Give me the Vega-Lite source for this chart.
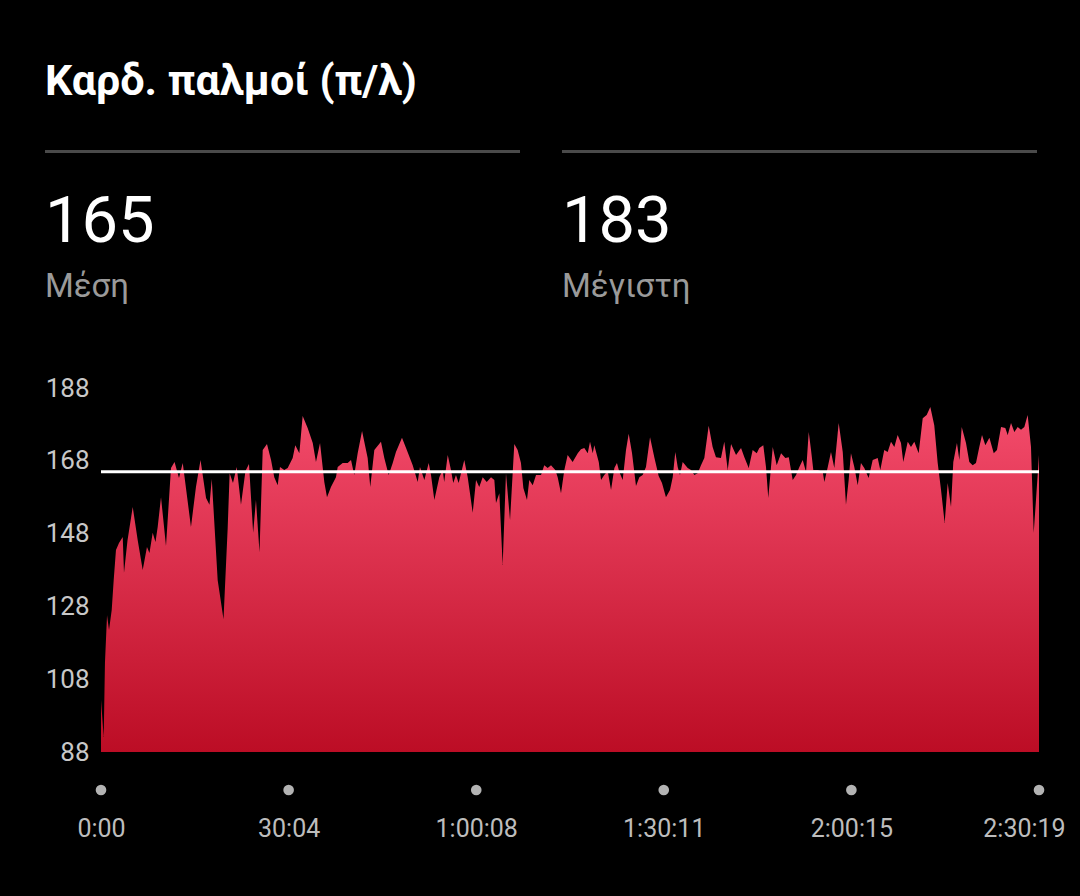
{
  "$schema": "https://vega.github.io/schema/vega-lite/v6.json",
  "background": "#000000",
  "padding": {"left": 44, "top": 0, "right": 20, "bottom": 70},
  "bounds": "flush",
  "spacing": 20,
  "config": {"view": {"stroke": null}, "font": "Roboto"},
  "vconcat": [
    {
      "width": 938,
      "height": 368,
      "data": {"values": [
        {"stat": "Μέση", "value": 165, "col": 0},
        {"stat": "Μέγιστη", "value": 183, "col": 1}
      ]},
      "layer": [
        {
          "mark": {"type": "bar", "color": "#4a4a4a"},
          "encoding": {
            "x": {"field": "col", "type": "ordinal", "scale": {"type": "band", "range": [-56, 936], "paddingInner": 0.0812, "paddingOuter": 0}, "axis": null},
            "y": {"value": 150},
            "y2": {"value": 153}
          }
        },
        {
          "mark": {"type": "text", "align": "left", "baseline": "alphabetic", "fontSize": 65, "fontWeight": "normal", "color": "#ffffff"},
          "encoding": {
            "x": {"field": "col", "type": "ordinal", "bandPosition": 0, "axis": null},
            "y": {"value": 242},
            "text": {"field": "value", "type": "quantitative"}
          }
        },
        {
          "mark": {"type": "text", "align": "left", "baseline": "alphabetic", "fontSize": 33, "color": "#9a9a9a"},
          "encoding": {
            "x": {"field": "col", "type": "ordinal", "bandPosition": 0, "axis": null},
            "y": {"value": 297},
            "text": {"field": "stat", "type": "nominal"}
          }
        },
        {
          "data": {"values": [{"title": "Καρδ. παλμοί (π/λ)"}]},
          "mark": {"type": "text", "align": "left", "baseline": "alphabetic", "fontSize": 43, "fontWeight": "bold", "color": "#ffffff", "dx": -56},
          "encoding": {
            "x": {"value": 0},
            "y": {"value": 95},
            "text": {"field": "title", "type": "nominal"}
          }
        }
      ]
    },
    {
      "width": 938,
      "height": 364,
      "layer": [
        {
          "data": {"values": [
            {"t":0,"hr":102.3},{"t":26,"hr":92.1},{"t":38,"hr":112.4},{"t":58,"hr":125.6},{"t":77,"hr":121.5},{"t":103,"hr":127.0},{"t":122,"hr":135.2},{"t":144,"hr":143.5},{"t":173,"hr":145.4},{"t":209,"hr":147.1},{"t":221,"hr":137.2},{"t":255,"hr":146.2},{"t":305,"hr":155.3},{"t":353,"hr":146.2},{"t":401,"hr":138.0},{"t":442,"hr":144.3},{"t":466,"hr":142.7},{"t":497,"hr":148.2},{"t":524,"hr":145.7},{"t":545,"hr":149.8},{"t":577,"hr":158.0},{"t":625,"hr":144.6},{"t":673,"hr":166.0},{"t":707,"hr":167.7},{"t":750,"hr":163.3},{"t":786,"hr":167.4},{"t":865,"hr":149.8},{"t":913,"hr":160.8},{"t":957,"hr":168.2},{"t":1010,"hr":157.8},{"t":1043,"hr":155.9},{"t":1065,"hr":163.0},{"t":1122,"hr":135.2},{"t":1178,"hr":124.5},{"t":1218,"hr":149.5},{"t":1237,"hr":164.6},{"t":1269,"hr":161.9},{"t":1305,"hr":166.3},{"t":1346,"hr":155.9},{"t":1389,"hr":165.2},{"t":1423,"hr":167.1},{"t":1463,"hr":148.2},{"t":1490,"hr":157.2},{"t":1524,"hr":142.9},{"t":1555,"hr":171.0},{"t":1596,"hr":172.6},{"t":1635,"hr":168.2},{"t":1666,"hr":163.5},{"t":1699,"hr":161.3},{"t":1721,"hr":166.3},{"t":1762,"hr":165.5},{"t":1795,"hr":166.0},{"t":1843,"hr":168.8},{"t":1868,"hr":172.3},{"t":1907,"hr":170.1},{"t":1939,"hr":180.3},{"t":1987,"hr":177.0},{"t":2036,"hr":172.9},{"t":2067,"hr":167.7},{"t":2106,"hr":172.9},{"t":2147,"hr":162.2},{"t":2173,"hr":158.0},{"t":2211,"hr":160.8},{"t":2259,"hr":163.5},{"t":2276,"hr":166.3},{"t":2324,"hr":167.4},{"t":2372,"hr":167.4},{"t":2404,"hr":168.2},{"t":2435,"hr":164.1},{"t":2468,"hr":170.1},{"t":2510,"hr":176.2},{"t":2564,"hr":168.8},{"t":2589,"hr":160.8},{"t":2628,"hr":171.0},{"t":2692,"hr":173.2},{"t":2724,"hr":168.8},{"t":2766,"hr":164.1},{"t":2805,"hr":167.4},{"t":2836,"hr":170.4},{"t":2894,"hr":174.3},{"t":2933,"hr":171.5},{"t":2997,"hr":166.8},{"t":3045,"hr":162.2},{"t":3067,"hr":166.3},{"t":3109,"hr":162.7},{"t":3151,"hr":167.4},{"t":3173,"hr":164.1},{"t":3205,"hr":157.2},{"t":3253,"hr":163.5},{"t":3285,"hr":165.5},{"t":3300,"hr":162.2},{"t":3334,"hr":169.6},{"t":3365,"hr":165.5},{"t":3387,"hr":161.9},{"t":3413,"hr":164.1},{"t":3439,"hr":161.9},{"t":3493,"hr":168.2},{"t":3526,"hr":163.5},{"t":3574,"hr":153.7},{"t":3606,"hr":162.7},{"t":3637,"hr":160.8},{"t":3670,"hr":163.5},{"t":3709,"hr":162.2},{"t":3750,"hr":163.5},{"t":3782,"hr":162.7},{"t":3798,"hr":156.4},{"t":3830,"hr":159.1},{"t":3862,"hr":139.4},{"t":3894,"hr":164.6},{"t":3933,"hr":151.7},{"t":3974,"hr":172.6},{"t":4006,"hr":171.0},{"t":4038,"hr":167.4},{"t":4061,"hr":160.5},{"t":4096,"hr":157.2},{"t":4118,"hr":162.7},{"t":4151,"hr":161.3},{"t":4183,"hr":164.1},{"t":4231,"hr":164.1},{"t":4262,"hr":166.8},{"t":4295,"hr":166.0},{"t":4327,"hr":166.8},{"t":4368,"hr":165.5},{"t":4391,"hr":163.5},{"t":4423,"hr":159.1},{"t":4455,"hr":165.5},{"t":4487,"hr":169.6},{"t":4535,"hr":167.7},{"t":4584,"hr":170.1},{"t":4615,"hr":171.2},{"t":4647,"hr":171.5},{"t":4680,"hr":170.1},{"t":4702,"hr":173.2},{"t":4728,"hr":170.1},{"t":4743,"hr":172.3},{"t":4786,"hr":167.7},{"t":4808,"hr":162.7},{"t":4839,"hr":164.1},{"t":4872,"hr":165.2},{"t":4904,"hr":160.0},{"t":4936,"hr":166.0},{"t":4961,"hr":167.4},{"t":4984,"hr":164.9},{"t":5016,"hr":162.7},{"t":5048,"hr":171.0},{"t":5074,"hr":175.4},{"t":5106,"hr":170.1},{"t":5144,"hr":161.1},{"t":5176,"hr":163.5},{"t":5208,"hr":164.1},{"t":5240,"hr":166.3},{"t":5279,"hr":174.5},{"t":5320,"hr":169.0},{"t":5362,"hr":163.8},{"t":5394,"hr":161.9},{"t":5432,"hr":158.0},{"t":5471,"hr":160.0},{"t":5497,"hr":163.5},{"t":5522,"hr":170.4},{"t":5545,"hr":166.3},{"t":5567,"hr":164.1},{"t":5593,"hr":167.7},{"t":5641,"hr":166.0},{"t":5673,"hr":165.5},{"t":5705,"hr":164.1},{"t":5737,"hr":164.6},{"t":5769,"hr":166.8},{"t":5801,"hr":168.8},{"t":5843,"hr":177.6},{"t":5881,"hr":171.8},{"t":5913,"hr":169.0},{"t":5961,"hr":168.8},{"t":5993,"hr":173.2},{"t":6026,"hr":165.5},{"t":6058,"hr":172.6},{"t":6106,"hr":169.6},{"t":6154,"hr":171.5},{"t":6186,"hr":169.0},{"t":6228,"hr":166.0},{"t":6266,"hr":171.0},{"t":6305,"hr":170.1},{"t":6330,"hr":171.5},{"t":6368,"hr":172.3},{"t":6394,"hr":166.3},{"t":6416,"hr":157.8},{"t":6459,"hr":171.8},{"t":6497,"hr":166.8},{"t":6539,"hr":170.1},{"t":6580,"hr":168.8},{"t":6613,"hr":169.0},{"t":6651,"hr":162.7},{"t":6683,"hr":164.1},{"t":6715,"hr":166.3},{"t":6747,"hr":168.2},{"t":6779,"hr":164.9},{"t":6805,"hr":175.9},{"t":6827,"hr":171.0},{"t":6849,"hr":165.5},{"t":6892,"hr":165.5},{"t":6940,"hr":164.9},{"t":6955,"hr":162.2},{"t":6988,"hr":166.3},{"t":7019,"hr":170.4},{"t":7051,"hr":166.0},{"t":7093,"hr":178.4},{"t":7132,"hr":170.4},{"t":7163,"hr":155.9},{"t":7189,"hr":162.7},{"t":7211,"hr":170.1},{"t":7243,"hr":166.3},{"t":7276,"hr":161.3},{"t":7307,"hr":167.4},{"t":7339,"hr":166.0},{"t":7381,"hr":163.3},{"t":7420,"hr":168.2},{"t":7468,"hr":168.8},{"t":7493,"hr":165.5},{"t":7531,"hr":171.0},{"t":7564,"hr":170.4},{"t":7596,"hr":173.2},{"t":7628,"hr":171.8},{"t":7660,"hr":175.1},{"t":7692,"hr":172.9},{"t":7714,"hr":167.7},{"t":7757,"hr":173.2},{"t":7788,"hr":171.8},{"t":7820,"hr":173.2},{"t":7862,"hr":170.1},{"t":7901,"hr":179.7},{"t":7939,"hr":180.6},{"t":7974,"hr":182.8},{"t":8012,"hr":177.8},{"t":8045,"hr":167.4},{"t":8077,"hr":160.0},{"t":8112,"hr":150.9},{"t":8141,"hr":161.9},{"t":8173,"hr":155.3},{"t":8195,"hr":167.7},{"t":8230,"hr":172.9},{"t":8253,"hr":168.2},{"t":8276,"hr":177.3},{"t":8317,"hr":172.9},{"t":8349,"hr":167.7},{"t":8381,"hr":166.8},{"t":8413,"hr":167.4},{"t":8445,"hr":171.8},{"t":8471,"hr":175.1},{"t":8503,"hr":172.3},{"t":8542,"hr":174.3},{"t":8584,"hr":170.1},{"t":8615,"hr":171.0},{"t":8654,"hr":177.3},{"t":8695,"hr":177.0},{"t":8718,"hr":175.1},{"t":8750,"hr":178.4},{"t":8782,"hr":175.9},{"t":8814,"hr":177.3},{"t":8846,"hr":176.5},{"t":8878,"hr":177.3},{"t":8910,"hr":180.6},{"t":8942,"hr":171.8},{"t":8968,"hr":148.2},{"t":8990,"hr":157.2},{"t":9019,"hr":169.6}
          ]},
          "mark": {
            "type": "area",
            "interpolate": "linear",
            "clip": true,
            "fill": {"gradient": "linear", "x1": 0, "y1": 0, "x2": 0, "y2": 1, "stops": [
              {"offset": 0, "color": "#f44c6c"},
              {"offset": 1, "color": "#bc0d25"}
            ]}
          },
          "encoding": {
            "x": {"field": "t", "type": "quantitative", "scale": {"domain": [0, 9019], "nice": false, "zero": false}, "axis": null},
            "y": {"field": "hr", "type": "quantitative", "scale": {"domain": [88, 188], "nice": false, "zero": false},
              "axis": {"values": [88, 108, 128, 148, 168, 188], "domain": false, "ticks": false, "grid": false, "title": null,
                "labelColor": "#c8c8c8", "labelFontSize": 26, "labelPadding": 12, "labelFont": "Roboto"}},
            "y2": {"datum": 88}
          }
        },
        {
          "data": {"values": [{"avg": 165}]},
          "mark": {"type": "rule", "color": "#ffffff", "strokeWidth": 3},
          "encoding": {
            "y": {"field": "avg", "type": "quantitative"}
          }
        }
      ]
    },
    {
      "width": 938,
      "height": 36,
      "data": {"values": [
        {"t": 0}, {"t": 1804}, {"t": 3608}, {"t": 5411}, {"t": 7215}, {"t": 9019}
      ]},
      "mark": {"type": "circle", "size": 113, "color": "#b3b3b3", "opacity": 1},
      "encoding": {
        "x": {"field": "t", "type": "quantitative", "scale": {"domain": [0, 9019], "nice": false, "zero": false},
          "axis": {"values": [0, 1804, 3608, 5411, 7215, 9019], "domain": false, "ticks": false, "grid": false, "title": null,
            "labelFlush": false, "labelColor": "#bdbdbd", "labelFontSize": 25, "labelPadding": 8, "labelFont": "Roboto",
            "labelOffset": {"expr": "datum.value > 9000 ? -15 : 0"},
            "labelExpr": "(datum.value >= 3600 ? floor(datum.value/3600) + ':' + pad('' + floor((datum.value%3600)/60), 2, '0', 'left') : '' + floor(datum.value/60)) + ':' + pad('' + (datum.value%60), 2, '0', 'left')"}
        }
      }
    }
  ]
}
